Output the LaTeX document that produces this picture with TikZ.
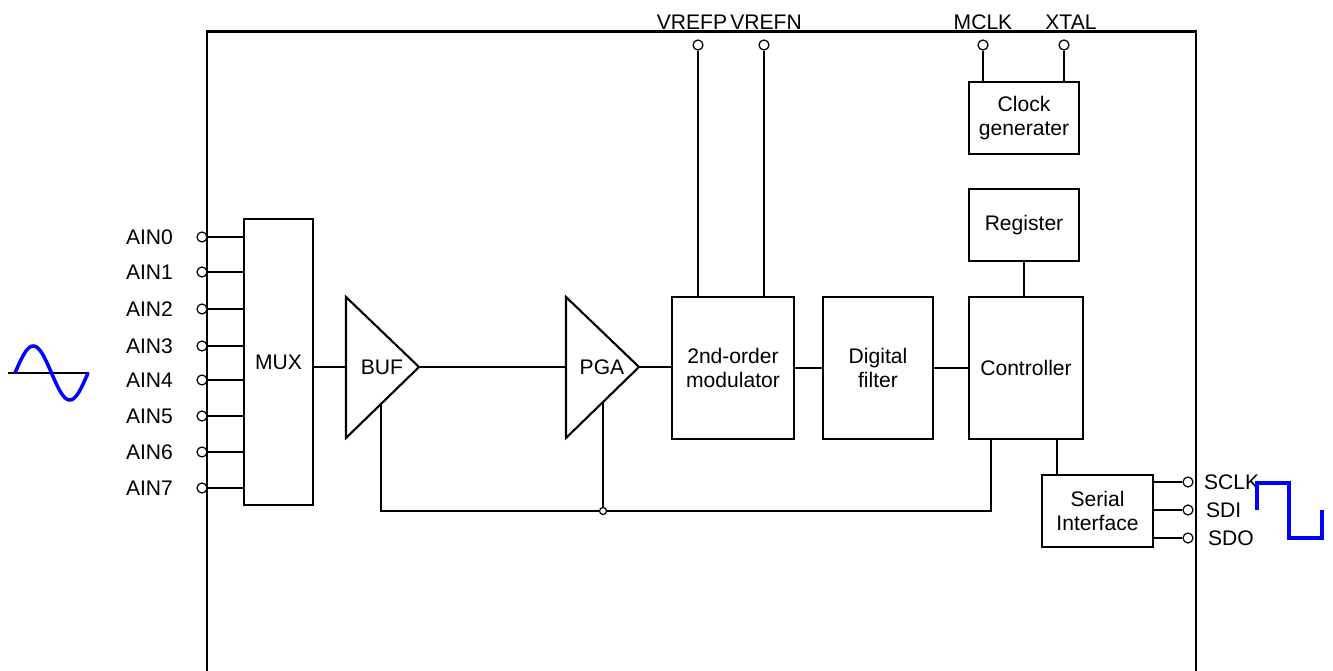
\documentclass[tikz,border=0pt]{standalone}
\usepackage{fontspec}
\setmainfont{Liberation Sans}
\usetikzlibrary{calc}

\tikzset{
  blk/.style={draw,line width=1.2pt,align=center,inner sep=0pt,
    font=\fontsize{12}{13.6}\selectfont},
  pin/.style={circle,draw,fill=white,line width=.7pt,inner sep=0pt,minimum size=.2cm},
  lbl/.style={inner sep=0pt,font=\fontsize{12}{13.6}\selectfont},
  wave/.style={blue,line width=2pt},
}

\begin{document}
\begin{tikzpicture}[yscale=-1,x=0.02cm,y=0.02cm,line width=1.2pt]
        \useasboundingbox (0,0) rectangle (1333,671);

        % chip outline
        \draw (207,671) -- (207,31.5) -- (1196,31.5) -- (1196,671);

        % blocks
        \node[blk,minimum width=1.38cm,minimum height=5.72cm] (mux) at (278.5,362) {MUX};
        \node[blk,minimum width=2.44cm,minimum height=2.84cm] (mod) at (733,368) {2nd-order\\modulator};
        \node[blk,minimum width=2.2cm,minimum height=2.84cm] (filt) at (878,368) {Digital\\filter};
        \node[blk,minimum width=2.28cm,minimum height=2.84cm] (ctrl) at (1026,368) {Controller};
        \node[blk,minimum width=2.2cm,minimum height=1.44cm] (reg) at (1024,225) {Register};
        \node[blk,minimum width=2.2cm,minimum height=1.44cm] (clk) at (1024,118) {Clock\\generater};
        \node[blk,minimum width=2.22cm,minimum height=1.44cm] (ser) at (1097.5,511) {Serial\\Interface};

        % amplifiers
        \coordinate (bufin) at (346,367);
        \coordinate (bufout) at (419,367);
        \coordinate (pgain) at (566,367);
        \coordinate (pgaout) at (639,367);
        \draw (346,297) -- (bufout) -- (346,438) -- cycle;
        \draw (566,297) -- (pgaout) -- (566,438) -- cycle;
        \node[lbl] (buf) at (382,367) {BUF};
        \node[lbl] (pga) at (602,367) {PGA};

        % analog inputs
        \foreach \i/\y in {0/237,1/272,2/309,3/346,4/380,5/416,6/452,7/488} {
          \node[pin] (ain\i) at (202,\y) {};
          \draw (ain\i) -- (ain\i -| mux.west);
          \node[lbl,anchor=east] at (174,\y) {AIN\i};
        }

        % signal chain
        \draw (mux.east |- bufin) -- (bufin);
        \draw (bufout) -- (pgain);
        \draw (pgaout) -- (pgaout -| mod.west);
        \draw (mod.east) -- (filt.west);
        \draw (filt.east) -- (ctrl.west);
        \draw (reg.south) -- (reg.south |- ctrl.north);

        % feedback to the amplifiers
        \coordinate (buftap) at (381,404);
        \coordinate (pgatap) at (603,402);
        \coordinate (fb) at (991,511);
        \draw (buftap) -- (buftap |- fb) -- (fb) -- (fb |- ctrl.south);
        \node[pin,minimum size=.14cm] (jn) at (pgatap |- fb) {};
        \draw (pgatap) -- (jn);

        % reference and clock pins
        \foreach \n/\x/\t/\tx in {vrefp/698/VREFP/692,vrefn/764/VREFN/766} {
          \node[pin] (\n) at (\x,45) {};
          \draw (\n) -- (\n |- mod.north);
          \node[lbl] at (\tx,22) {\t};
        }
        \foreach \n/\x/\t/\tx in {mclk/983/MCLK/983,xtal/1064/XTAL/1071} {
          \node[pin] (\n) at (\x,45) {};
          \draw (\n) -- (\n |- clk.north);
          \node[lbl] at (\tx,22) {\t};
        }

        % serial pins
        \coordinate (sertap) at (1057,0);
        \draw (ser.north -| sertap) -- (ctrl.south -| sertap);
        \foreach \n/\y/\t/\tx in {sclk/482/SCLK/1203,sdi/510/SDI/1205,sdo/538/SDO/1207} {
          \node[pin] (\n) at (1188,\y) {};
          \draw (ser.east |- \n) -- (\n);
          \node[lbl,anchor=west] at (\tx,\y) {\t};
        }

        % waveforms
        \draw (8,373) -- (89,373);
        \draw[wave] plot[domain=0:360,samples=60,smooth] ({15+\x/360*73},{373-27*sin(\x)});
        \draw[wave] (1257,510) -- (1257,483) -- (1289,483) -- (1289,538) -- (1322,538) -- (1322,510);
    \end{tikzpicture}
\end{document}
